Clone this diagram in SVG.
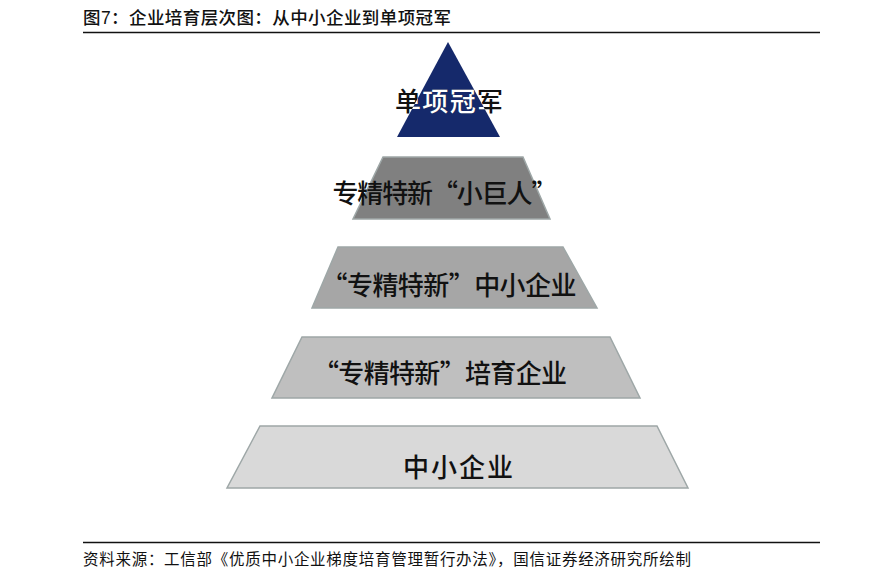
<svg xmlns="http://www.w3.org/2000/svg" width="889" height="580" viewBox="0 0 889 580">
<style>
.cap{font-family:"Liberation Sans","Noto Sans CJK SC",sans-serif;fill:#111;}
.lbl{font-family:"Noto Sans CJK SC",serif;font-size:26px;font-weight:500;fill:#111;text-anchor:middle;}
.tier{stroke:#9ea7a7;stroke-width:1.5;}
.rule{stroke:#111;stroke-width:1.5;}
</style>
<defs>
<clipPath id="triClip"><polygon points="448,42 397,137 500,137"/></clipPath>
</defs>
<rect width="889" height="580" fill="#fff"/>
<text class="cap" x="83" y="24" font-size="17.5" font-weight="500" textLength="368" lengthAdjust="spacing">图7：企业培育层次图：从中小企业到单项冠军</text>
<line class="rule" x1="83" y1="32.5" x2="820" y2="32.5"/>
<g id="tier1">
<polygon points="448,42 397,137 500,137" fill="#15296b"/>
<text class="lbl" x="449" y="111" font-size="27" textLength="108" lengthAdjust="spacing">单项冠军</text>
<text class="lbl" x="449" y="111" font-size="27" textLength="108" lengthAdjust="spacing" clip-path="url(#triClip)" style="fill:#fff">单项冠军</text>
</g>
<g id="tier2">
<polygon class="tier" points="383,157 523,157 550,219 353,219" fill="#808080"/>
<text class="lbl" x="445" y="203" textLength="225" lengthAdjust="spacing">专精特新“小巨人”</text>
</g>
<g id="tier3">
<polygon class="tier" points="338,247 563,247 597,308 312,308" fill="#a6a6a6"/>
<text class="lbl" x="449" y="295" textLength="255" lengthAdjust="spacing">“专精特新”中小企业</text>
</g>
<g id="tier4">
<polygon class="tier" points="302,337 610,337 640,398 272,398" fill="#bfbfbf"/>
<text class="lbl" x="440" y="383" textLength="254" lengthAdjust="spacing">“专精特新”培育企业</text>
</g>
<g id="tier5">
<polygon class="tier" points="260,426 657,426 688,488 227,488" fill="#d9d9d9"/>
<text class="lbl" x="458" y="477" font-size="27" textLength="110" lengthAdjust="spacing">中小企业</text>
</g>
<g id="connectors"></g>
<line class="rule" x1="83" y1="542.5" x2="820" y2="542.5"/>
<text class="cap" x="83" y="565" font-size="15.5" textLength="608" lengthAdjust="spacing">资料来源：工信部《优质中小企业梯度培育管理暂行办法》，国信证券经济研究所绘制</text>
</svg>
